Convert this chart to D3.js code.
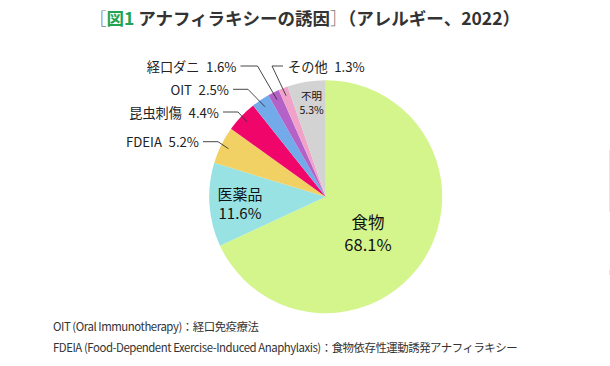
<!DOCTYPE html>
<html><head><meta charset="utf-8">
<script src="https://cdn.jsdelivr.net/npm/d3@7"></script>
<style>
html,body{margin:0;padding:0;background:#fff;}
svg{display:block;font-family:"Noto Sans CJK JP","Noto Sans",sans-serif;}
</style></head>
<body>
<svg id="c" width="610" height="366"></svg>
<script>
const categories = ["食物","医薬品","FDEIA","昆虫刺傷","OIT","経口ダニ","その他","不明"];
const values = [68.1, 11.6, 5.2, 4.4, 2.5, 1.6, 1.3, 5.3];
const colors = ["#d4f58c","#98e2e3","#f1d064","#f0066a","#72aaea","#b462c8","#f0a2c8","#d3d3d3"];
const titleParts = ["［","図1","アナフィラキシーの誘因","］（アレルギー、2022）"];
const notes = ["OIT (Oral Immunotherapy)：経口免疫療法","FDEIA (Food-Dependent Exercise-Induced Anaphylaxis)：食物依存性運動誘発アナフィラキシー"];

// layout for outside labels (relative to pie centre): elbow point, horizontal run, side
const outerLayout = {
  "FDEIA":   {ex:-107.7, ey:-55,   run:15, side:"left"},
  "昆虫刺傷": {ex:-87.7,  ey:-84.7, run:15, side:"left"},
  "OIT":     {ex:-77.7,  ey:-107.4,run:15, side:"left"},
  "経口ダニ": {ex:-68.2,  ey:-130.7,run:17, side:"left"},
  "その他":   {ex:-53.7,  ey:-130.7,run:11, side:"right"}
};

const svg = d3.select("#c");
const cx = 325.7, cy = 196.7, R = 116.5;

// title
const t = svg.append("text").attr("x",89).attr("y",25).attr("font-size",17.5).attr("font-weight",700).attr("fill","#333");
t.append("tspan").text(titleParts[0]).attr("font-weight",300).attr("fill","#777");
t.append("tspan").text(titleParts[1]).attr("fill","#22a34f");
t.append("tspan").text(" "+titleParts[2]);
t.append("tspan").text(titleParts[3].slice(0,1)).attr("font-weight",300).attr("fill","#777");
t.append("tspan").text(titleParts[3].slice(1));

const data = categories.map((c,i)=>({cat:c,val:values[i],col:colors[i]}));
const pie = d3.pie().sort(null).value(d=>d.val);
const arcs = pie(data);
const arc = d3.arc().innerRadius(0).outerRadius(R);
const g = svg.append("g").attr("transform",`translate(${cx},${cy})`);
g.selectAll("path").data(arcs).join("path").attr("d",arc).attr("fill",d=>d.data.col);

const fmt = v => d3.format(".1f")(v)+"%";

// inner labels
function inner(catName, x, y, fs1, fs2, dy){
  const a = arcs.find(d=>d.data.cat===catName);
  const txt = g.append("text").attr("text-anchor","middle").attr("fill","#111");
  txt.append("tspan").attr("x",x).attr("y",y).attr("font-size",fs1).text(a.data.cat);
  txt.append("tspan").attr("x",x).attr("y",y+dy).attr("font-size",fs2).text(fmt(a.data.val));
}
inner("食物", 368-cx, 229-cy, 16.5, 16.5, 22);
inner("医薬品", 240-cx, 200-cy, 15, 15, 19);
inner("不明", 311.5-cx, 100-cy, 10.5, 10.5, 14);

// outer labels with leader lines
arcs.forEach(a=>{
  const L = outerLayout[a.data.cat];
  if(!L) return;
  const mid = (a.startAngle+a.endAngle)/2;
  const rr = R-8;
  const px = Math.sin(mid)*rr, py = -Math.cos(mid)*rr;
  const hx = L.side==="left" ? L.ex - L.run : L.ex + L.run;
  g.append("polyline").attr("points",`${px},${py} ${L.ex},${L.ey} ${hx},${L.ey}`)
    .attr("fill","none").attr("stroke","#333").attr("stroke-width",0.9);
  g.append("text").attr("x", L.side==="left" ? hx-4 : hx+5).attr("y",L.ey)
    .attr("dominant-baseline","central")
    .attr("text-anchor", L.side==="left" ? "end":"start")
    .attr("font-size",13.2).attr("fill","#222")
    .text(a.data.cat+"\u2002"+fmt(a.data.val));
});

// notes
notes.forEach((n,i)=>{
  svg.append("text").attr("x",53).attr("y",331+i*21).attr("font-size",11.4).attr("fill","#333")
    .attr("letter-spacing",-0.45).text(n);
});

// faint right edge marks
svg.append("line").attr("x1",609.5).attr("x2",609.5).attr("y1",150).attr("y2",212).attr("stroke","#e6e6e6").attr("stroke-width",1);
svg.append("line").attr("x1",609.5).attr("x2",609.5).attr("y1",270).attr("y2",275).attr("stroke","#e6e6e6").attr("stroke-width",1);
</script>
</body></html>
